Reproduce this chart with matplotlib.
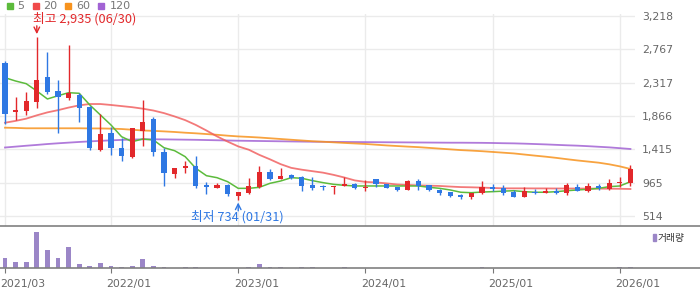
import numpy as np
import pandas as pd
import matplotlib.pyplot as plt
from matplotlib.patches import Rectangle
from matplotlib.lines import Line2D
from matplotlib.transforms import ScaledTranslation

plt.rcParams['font.family'] = ['DejaVu Sans']
KR = ['Noto Sans CJK KR', 'DejaVu Sans']

# monthly candles, 2021/03 .. 2026/02
opens = [2579, 1925, 1934, 2059, 2397, 2204, 2113, 2150, 1992, 1406,
         1640, 1429, 1308, 1667, 1821, 1375, 1078, 1159, 1190, 933,
         897, 933, 789, 829, 902, 1113, 1014, 1068, 1045, 933,
         910, 902, 920, 947, 888, 1014, 947, 902, 866, 987,
         933, 866, 835, 798, 775, 820, 902, 888, 843, 775,
         843, 829, 856, 829, 902, 856, 920, 875, 956, 965]
highs = [2610, 2123, 2195, 2935, 2735, 2353, 2826, 2181, 2001, 1893,
         1713, 1573, 1705, 2082, 1857, 1429, 1159, 1258, 1325, 978,
         956, 947, 835, 1032, 1194, 1150, 1159, 1082, 1055, 1045,
         933, 920, 1037, 956, 1000, 1014, 950, 905, 1000, 1014,
         933, 875, 843, 811, 829, 987, 942, 933, 865, 902,
         875, 888, 888, 956, 942, 956, 947, 1014, 1037, 1204]
lows = [1758, 1812, 1880, 1978, 2159, 1640, 2082, 1781, 1406, 1397,
        1339, 1262, 1294, 1465, 1329, 924, 1024, 1091, 897, 808,
        897, 789, 734, 811, 888, 1000, 1014, 1014, 856, 866,
        866, 811, 920, 875, 856, 911, 895, 857, 866, 866,
        852, 798, 767, 742, 748, 811, 856, 798, 775, 775,
        811, 820, 815, 798, 856, 843, 866, 866, 911, 920]
closes = [1897, 1950, 2069, 2353, 2195, 2127, 2181, 1978, 1437, 1623,
          1429, 1329, 1700, 1781, 1383, 1091, 1159, 1190, 920, 902,
          933, 808, 835, 920, 1113, 1014, 1055, 1024, 920, 897,
          903, 920, 947, 888, 911, 942, 897, 866, 987, 920,
          866, 829, 785, 775, 820, 902, 879, 820, 775, 856,
          820, 856, 829, 933, 856, 920, 888, 956, 978, 1150]

ma5 = [2384, 2339, 2303, 2204, 2096, 2140, 2181, 2173, 2015, 1880,
       1744, 1586, 1519, 1555, 1542, 1437, 1397, 1316, 1159, 1059,
       1032, 978, 888, 888, 902, 956, 987, 1032, 1024, 992,
       965, 942, 929, 920, 920, 920, 920, 920, 920, 920,
       902, 888, 866, 835, 829, 838, 843, 850, 856, 843,
       835, 835, 843, 856, 866, 875, 888, 911, 920, 978]
ma20 = [1775, 1800, 1830, 1875, 1915, 1945, 1980, 2010, 2028, 2028,
        2015, 2000, 1985, 1965, 1940, 1905, 1860, 1810, 1745, 1670,
        1590, 1520, 1455, 1410, 1340, 1280, 1215, 1165, 1140, 1120,
        1100, 1070, 1035, 995, 975, 968, 955, 940, 933, 928,
        924, 920, 912, 905, 902, 898, 893, 888, 888, 888,
        887, 887, 886, 886, 885, 885, 884, 883, 882, 879]
ma60 = [1708, 1705, 1700, 1700, 1700, 1700, 1700, 1700, 1698, 1698,
        1695, 1690, 1680, 1670, 1665, 1658, 1650, 1640, 1632, 1622,
        1612, 1600, 1590, 1583, 1575, 1565, 1555, 1545, 1535, 1525,
        1518, 1510, 1502, 1495, 1488, 1478, 1468, 1460, 1452, 1445,
        1435, 1425, 1415, 1405, 1398, 1390, 1380, 1370, 1360, 1345,
        1330, 1316, 1300, 1282, 1265, 1250, 1235, 1213, 1185, 1150]
ma120 = [1440, 1452, 1464, 1475, 1487, 1497, 1506, 1515, 1523, 1530,
         1537, 1543, 1548, 1551, 1551, 1550, 1548, 1546, 1544, 1541,
         1538, 1535, 1532, 1530, 1528, 1526, 1524, 1522, 1520, 1518,
         1517, 1516, 1515, 1514, 1513, 1512, 1511, 1510, 1509, 1508,
         1507, 1506, 1505, 1505, 1504, 1503, 1501, 1498, 1496, 1492,
         1487, 1482, 1476, 1470, 1465, 1458, 1450, 1442, 1431, 1420]

volume = [1000, 600, 600, 3600, 1830, 1000, 2100, 430, 230, 500,
          230, 130, 230, 930, 230, 130, 10, 130, 130, 10,
          10, 10, 10, 130, 430, 130, 130, 10, 130, 130,
          10, 10, 130, 10, 10, 10, 10, 10, 10, 10,
          10, 10, 10, 10, 10, 130, 10, 10, 10, 10,
          10, 10, 10, 10, 10, 10, 10, 10, 130, 130]

price_ticks = [514, 965, 1415, 1866, 2317, 2767, 3218]
months = pd.date_range('2021-03-01', periods=len(opens), freq='MS')

RED = '#e2282b'
BLUE = '#2f78e3'
GRAY = '#666666'

x = np.arange(len(opens))
o = np.array(opens); c = np.array(closes)
up = c >= o
colors = np.where(up, RED, BLUE)

fig = plt.figure(figsize=(7, 2.89), dpi=100)
W, H = 700, 289
ax = fig.add_axes([0, 1 - 226 / H, 635 / W, 212 / H])
vax = fig.add_axes([0, 1 - 268.3 / H, 635 / W, 42.3 / H])

xlim = (-0.472, 59.43)
ppx = 2704 / 200  # price per pixel
ax.set_xlim(*xlim)
ax.set_ylim(514 - 10 * ppx, 3218 + 2 * ppx)

# moving averages
ax.plot(x, ma120, color='#a263d4', lw=1.3, alpha=0.85, zorder=2)
ax.plot(x, ma60, color='#f7931e', lw=1.3, alpha=0.85, zorder=2)
ax.plot(x, ma20, color='#f05858', lw=1.3, alpha=0.8, zorder=2)
ax.plot(x, ma5, color='#5cbb3c', lw=1.1, zorder=2)

# candles
ax.vlines(x, lows, highs, colors=colors, lw=1, zorder=3)
body = np.maximum(np.abs(c - o), 12)
ax.bar(x, body, bottom=np.minimum(o, c), width=0.48, color=colors, zorder=4)

tick_pos = [i for i, m in enumerate(months) if i == 0 or m.month == 1]
tick_lab = [months[i].strftime('%Y/%m') for i in tick_pos]

ax.set_yticks(price_ticks)
ax.set_yticklabels([f'{p:,}' for p in price_ticks])
ax.yaxis.tick_right()
ax.tick_params(axis='y', length=0, pad=5, labelsize=7.8, labelcolor=GRAY)
ax.set_xticks(tick_pos)
ax.tick_params(axis='x', length=0, labelbottom=False)
ax.grid(color='#ebebeb', lw=1)
ax.set_axisbelow(True)
for s in ax.spines.values():
    s.set_visible(False)

# high / low marks
i_hi = int(np.argmax(highs)); i_lo = int(np.argmin(lows))
ax.annotate('', xy=(i_hi, highs[i_hi]), xytext=(0, 8), textcoords='offset points',
            arrowprops=dict(arrowstyle='->', color=RED, lw=1, shrinkA=0, shrinkB=2))
ax.annotate(f'최고 {highs[i_hi]:,} ({months[i_hi].strftime("%m")}/30)',
            xy=(i_hi, highs[i_hi]), xytext=(-3, 12.7), textcoords='offset points',
            ha='left', va='center', color=RED, fontsize=9.2, family=KR)
ax.annotate('', xy=(i_lo, lows[i_lo]), xytext=(0, -8), textcoords='offset points',
            arrowprops=dict(arrowstyle='->', color=BLUE, lw=1, shrinkA=0, shrinkB=2))
ax.annotate(f'최저 {lows[i_lo]:,} ({months[i_lo].strftime("%m")}/31)',
            xy=(i_lo, lows[i_lo]), xytext=(-34, -12.5), textcoords='offset points',
            ha='left', va='center', color=BLUE, fontsize=9.2, family=KR)

# volume
vax.bar(x, volume, width=0.45, color='#9b86c7')
vax.set_xlim(*xlim)
vax.set_ylim(0, 4230)
vax.set_yticks([])
vax.set_xticks(tick_pos)
vax.set_xticklabels(tick_lab)
vax.tick_params(axis='x', length=3.5, color='#777777', pad=4, labelsize=7.8, labelcolor=GRAY)
shift = ScaledTranslation(-4.5 / 100, 0, fig.dpi_scale_trans)
for lbl in vax.get_xticklabels():
    lbl.set_horizontalalignment('left')
    lbl.set_transform(lbl.get_transform() + shift)
for s in vax.spines.values():
    s.set_visible(False)

# separator lines across full width
for yy in (226, 268.3):
    fig.add_artist(Line2D([0, 1], [1 - yy / H, 1 - yy / H], color='#808080', lw=1.2))

# legend
leg = [('5', '#5cbb3c', 7, 17), ('20', '#f04a4a', 33, 43), ('60', '#f7931e', 65, 76),
       ('120', '#a263d4', 98, 110)]
for lab, col, sx, tx in leg:
    fig.add_artist(Rectangle((sx / W, 1 - 9 / H), 6 / W, 6 / H, color=col,
                             transform=fig.transFigure))
    fig.text(tx / W, 1 - 6 / H, lab, color='#777777', fontsize=8, va='center')

fig.add_artist(Rectangle((653 / W, 1 - 241 / H), 3 / W, 7 / H, color='#9b86c7',
                         transform=fig.transFigure))
fig.text(658 / W, 1 - 237.5 / H, '거래량', color='#333333', fontsize=7, va='center',
         family=KR)

fig.savefig('out.png', dpi=100)
